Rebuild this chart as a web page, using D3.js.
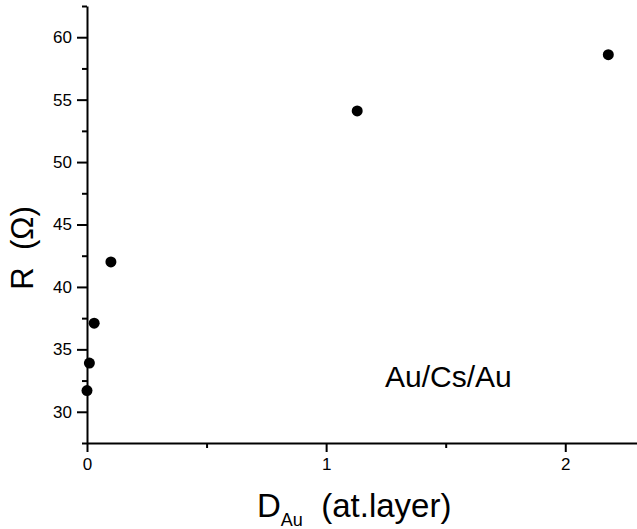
<!DOCTYPE html>
<html>
<head>
<meta charset="utf-8">
<script src="https://cdn.jsdelivr.net/npm/d3@7"></script>
<style>
  body { margin: 0; background: #fff; }
  svg { display: block; font-family: "Liberation Sans", Arial, sans-serif; }
  svg text { white-space: pre; }
  .axis path, .axis line { stroke: #000; stroke-width: 2; }
  .axis text { font-size: 17px; fill: #000; }
</style>
</head>
<body>
<div id="chart"></div>
<script>
// thickness of gold (at. layers) vs resistance (Ohm)
var dAu = [0, 0.01, 0.03, 0.10, 1.13, 2.18]
var resistance = [31.7, 33.9, 37.1, 42.0, 54.1, 58.6]
var yTicks = [30, 35, 40, 45, 50, 55, 60]
var xTicks = [0, 1, 2]

var width = 637, height = 529
var margin = { left: 87, right: 0, top: 6, bottom: 86 }

var svg = d3.select("#chart")
    .append("svg")
        .attr("width", width)
        .attr("height", height)

var w = width - margin.left - margin.right,
    h = height - margin.top - margin.bottom

var g = svg.append("g")
    .attr("transform", "translate(" + margin.left + "," + margin.top + ")")

var x = d3.scaleLinear().domain([0, 2.3]).range([0, w])
var y = d3.scaleLinear().domain([27.5, 62.5]).range([h, 0])

// minor ticks first
g.append("g")
    .attr("class", "axis")
    .call(d3.axisLeft(y).tickValues([27.5, 32.5, 37.5, 42.5, 47.5, 52.5, 57.5, 62.5]).tickSize(5).tickFormat(""))
    .call(g => g.select(".domain").remove())

g.append("g")
    .attr("class", "axis")
    .attr("transform", "translate(0," + h + ")")
    .call(d3.axisBottom(x).tickValues([0.5, 1.5]).tickSize(5).tickFormat(""))
    .call(g => g.select(".domain").remove())

var yAxis = g.append("g")
    .attr("class", "axis")
    .call(d3.axisLeft(y).tickValues(yTicks).tickSize(10).tickPadding(5).tickSizeOuter(0))

var xAxis = g.append("g")
    .attr("class", "axis")
    .attr("transform", "translate(0," + h + ")")
    .call(d3.axisBottom(x).tickValues(xTicks).tickFormat(d3.format("d")).tickSize(9).tickPadding(6).tickSizeOuter(0))

g.selectAll(".dot")
    .data(dAu.map((d, i) => ({ x: d, y: resistance[i] })))
    .enter()
    .append("circle")
        .attr("class", "dot")
        .attr("cx", d => x(d.x))
        .attr("cy", d => y(d.y))
        .attr("r", 5.5)
        .attr("fill", "#000")

// axis titles
svg.append("text")
    .attr("transform", "translate(33," + 248 + ") rotate(-90)")
    .attr("text-anchor", "middle")
    .attr("font-size", "31px")
    .text("R  (\u03A9)")

var xt = svg.append("text")
    .attr("x", 257)
    .attr("y", 517)
    .attr("font-size", "33px")
xt.append("tspan").text("D")
xt.append("tspan").attr("font-size", "18px").attr("dy", 9).text("Au")
xt.append("tspan").attr("dy", -9).text("  (at.layer)")

svg.append("text")
    .attr("x", 385)
    .attr("y", 387)
    .attr("font-size", "30px")
    .text("Au/Cs/Au")
</script>
</body>
</html>
